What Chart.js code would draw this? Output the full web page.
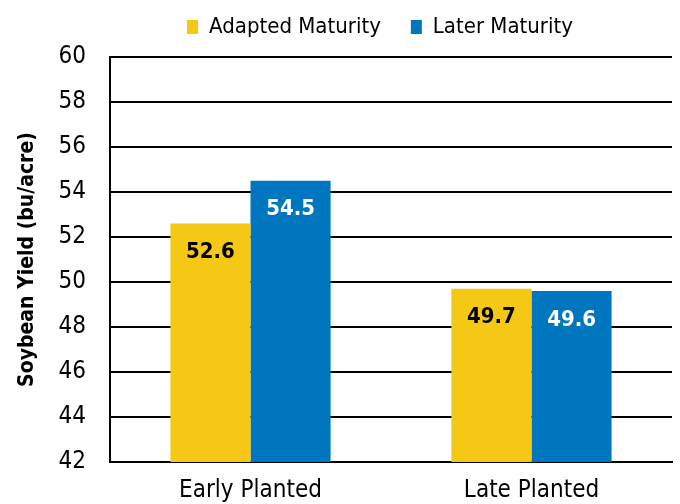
<!DOCTYPE html>
<html>
<head>
<meta charset="utf-8">
<script src="https://cdn.jsdelivr.net/npm/chart.js@4"></script>
<style>
  html, body { margin: 0; padding: 0; background: #fff; }
  #wrap { width: 680px; height: 504px; }
</style>
</head>
<body>
<div id="wrap"><canvas id="chart"></canvas></div>
<script>
const categories = ["Early Planted", "Late Planted"];
const adaptedMaturity = [52.6, 49.7];
const laterMaturity = [54.5, 49.6];
const seriesNames = ["Adapted Maturity", "Later Maturity"];

const FONT = "'Liberation Sans Narrow', 'Arial Narrow', 'DejaVu Sans Condensed', sans-serif";

// value labels drawn inside the top of each bar
const barLabels = {
    id: 'barLabels',
    afterDatasetsDraw(chart) {
        const ctx = chart.ctx;
        ctx.save();
        ctx.font = "bold 22px " + FONT;
        ctx.textAlign = 'center';
        ctx.textBaseline = 'middle';
        chart.data.datasets.forEach((ds, i) => {
            chart.getDatasetMeta(i).data.forEach((bar, j) => {
                ctx.fillStyle = i === 0 ? '#000' : '#fff';
                ctx.fillText(ds.data[j].toFixed(1), bar.x, bar.y + 29);
            });
        });
        ctx.restore();
    }
};

// fixed legend band height, then nudge the legend right and up
const legendPlace = {
    id: 'legendPlace',
    beforeInit(chart) {
        const fit = chart.legend.fit;
        chart.legend.fit = function () {
            fit.bind(chart.legend)();
            this.height = 57;
        };
    },
    afterLayout(chart) {
        chart.legend.top -= 14;
        chart.legend.left += 80;
    }
};

window.onload = function () {
    new Chart(document.getElementById("chart").getContext('2d'), {
        type: 'bar',
        data: {
            labels: categories,
            datasets: [
                { label: seriesNames[0], data: adaptedMaturity, backgroundColor: '#F6C816' },
                { label: seriesNames[1], data: laterMaturity, backgroundColor: '#0076BE' }
            ]
        },
        options: {
            responsive: true,
            maintainAspectRatio: false,
            animation: false,
            layout: { padding: { top: 0, right: 8, bottom: 0, left: 8 } },
            datasets: { bar: { categoryPercentage: 0.57, barPercentage: 1.0 } },
            plugins: {
                tooltip: { enabled: false },
                legend: {
                    position: 'top',
                    labels: {
                        color: '#000',
                        font: { family: FONT, size: 22 },
                        boxWidth: 11,
                        boxHeight: 14,
                        padding: 30
                    }
                }
            },
            scales: {
                x: {
                    grid: { display: false, drawTicks: false },
                    border: { color: '#000', width: 2 },
                    ticks: { color: '#000', font: { family: FONT, size: 24 }, padding: 14 },
                    afterFit(scale) { scale.height = 42; }
                },
                y: {
                    min: 42, max: 60,
                    grid: { color: '#000', lineWidth: 2, drawTicks: false },
                    border: { color: '#000', width: 2 },
                    ticks: { stepSize: 2, color: '#000', font: { family: FONT, size: 24 }, padding: 24 },
                    title: {
                        display: true,
                        text: 'Soybean Yield (bu/acre)',
                        color: '#000',
                        font: { family: FONT, size: 21, weight: 'bold' },
                        padding: { top: 7, bottom: 0 }
                    },
                    afterFit(scale) { scale.width = 102; }
                }
            }
        },
        plugins: [barLabels, legendPlace]
    });
};
</script>
</body>
</html>
